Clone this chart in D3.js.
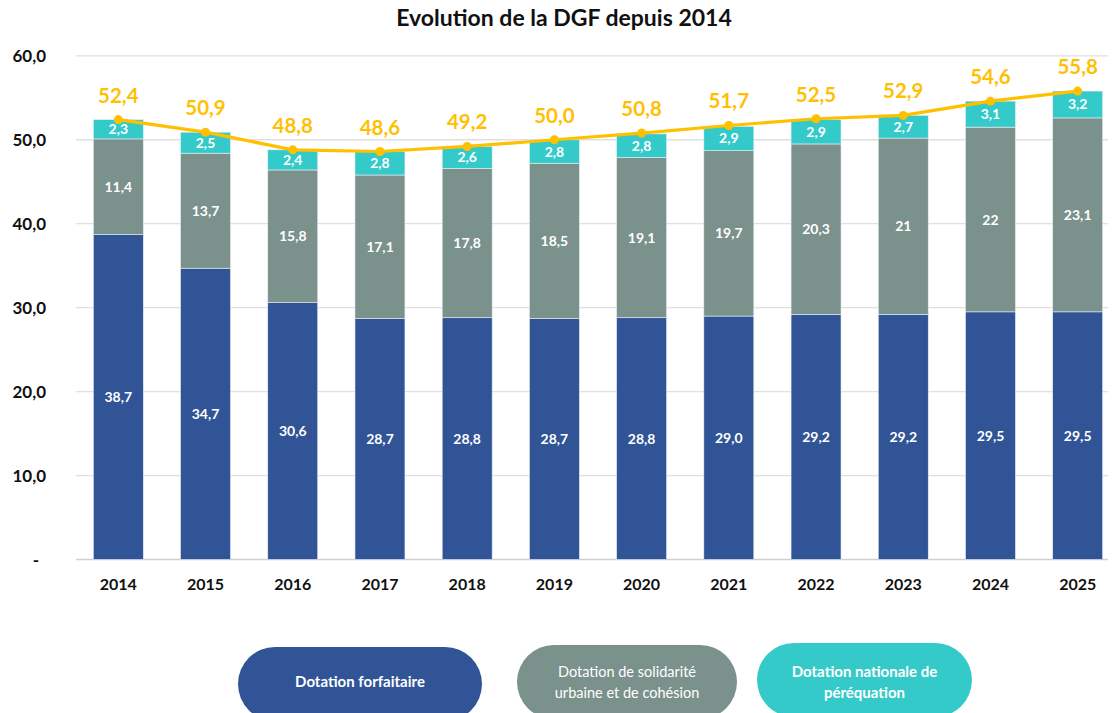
<!DOCTYPE html>
<html>
<head>
<meta charset="utf-8">
<script src="https://cdn.jsdelivr.net/npm/d3@7"></script>
<style>
  body { margin: 0; background: #fff; }
  text { font-family: Lato, "Open Sans", sans-serif; }
</style>
</head>
<body>
<script>
const width = 1113;
const height = 713;

const years = ["2014", "2015", "2016", "2017", "2018", "2019", "2020", "2021", "2022", "2023", "2024", "2025"];
const forfaitaire = [38.7, 34.7, 30.6, 28.7, 28.8, 28.7, 28.8, 29.0, 29.2, 29.2, 29.5, 29.5];
const solidarite = [11.4, 13.7, 15.8, 17.1, 17.8, 18.5, 19.1, 19.7, 20.3, 21, 22, 23.1];
const perequation = [2.3, 2.5, 2.4, 2.8, 2.6, 2.8, 2.8, 2.9, 2.9, 2.7, 3.1, 3.2];
const totals = [52.4, 50.9, 48.8, 48.6, 49.2, 50.0, 50.8, 51.7, 52.5, 52.9, 54.6, 55.8];
const yTicks = [0, 10, 20, 30, 40, 50, 60];

const seriesNames = ["Dotation forfaitaire", "Dotation de solidarité urbaine et de cohésion", "Dotation nationale de péréquation"];
const colors = ["#305496", "#7b918b", "#35caca"];
const lineColor = "#ffc000";

const fr = (v, dec) => v.toFixed(dec).replace(".", ",");

const svg = d3.select("body")
    .append("svg")
    .attr("width", width)
    .attr("height", height);

const x = d3.scaleBand()
    .domain(years)
    .range([74.7, 1121.3])
    .paddingInner(0.427)
    .paddingOuter(0.2135);

const y = d3.scaleLinear()
    .domain([0, 60])
    .range([559.5, 55.8]);

// title
svg.append("text")
    .attr("x", 564)
    .attr("y", 26)
    .attr("text-anchor", "middle")
    .style("font-size", "23px")
    .style("font-weight", "bold")
    .style("fill", "#111")
    .text("Evolution de la DGF depuis 2014");

// gridlines
svg.selectAll(".grid")
    .data(yTicks)
    .enter()
    .append("line")
    .attr("x1", 76)
    .attr("x2", 1108)
    .attr("y1", (d) => y(d))
    .attr("y2", (d) => y(d))
    .style("stroke", (d) => d === 0 ? "#d0d0d0" : "#e0e0e0")
    .style("stroke-width", 1.3);

// y labels
svg.selectAll(".y-label")
    .data(yTicks)
    .enter()
    .append("text")
    .attr("x", (d) => d === 0 ? 36 : 46)
    .attr("y", (d) => y(d) + 6)
    .attr("text-anchor", (d) => d === 0 ? "middle" : "end")
    .style("font-size", "17px")
    .style("font-weight", "bold")
    .style("fill", "#111")
    .text((d) => d === 0 ? "-" : fr(d, 1));

// x labels
svg.selectAll(".x-label")
    .data(years)
    .enter()
    .append("text")
    .attr("x", (d) => x(d) + x.bandwidth() / 2)
    .attr("y", 590)
    .attr("text-anchor", "middle")
    .style("font-size", "16px")
    .style("font-weight", "bold")
    .style("fill", "#111")
    .text((d) => d);

// stacked segments
const rows = years.map((yr, i) => ({
    year: yr,
    values: [forfaitaire[i], solidarite[i], perequation[i]],
}));

const segments = [];
rows.forEach((r) => {
    let base = 0;
    r.values.forEach((v, k) => {
        segments.push({ year: r.year, k: k, y0: base, y1: base + v, value: v });
        base += v;
    });
});

svg.selectAll(".seg")
    .data(segments)
    .enter()
    .append("rect")
    .attr("x", (d) => x(d.year))
    .attr("width", x.bandwidth())
    .attr("y", (d) => y(d.y1))
    .attr("height", (d) => y(d.y0) - y(d.y1))
    .style("fill", (d) => colors[d.k])
    .style("stroke", "#e8eef4")
    .style("stroke-width", 0.6);

svg.selectAll(".seg-label")
    .data(segments)
    .enter()
    .append("text")
    .attr("x", (d) => x(d.year) + x.bandwidth() / 2)
    .attr("y", (d) => (y(d.y0) + y(d.y1)) / 2 + 5)
    .attr("text-anchor", "middle")
    .style("font-size", "14px")
    .style("font-weight", "bold")
    .style("fill", "#fff")
    .text((d) => d.k === 1 && Number.isInteger(d.value) ? String(d.value) : fr(d.value, 1));

// total line
const line = d3.line()
    .x((d, i) => x(years[i]) + x.bandwidth() / 2)
    .y((d) => y(d));

svg.append("path")
    .datum(totals)
    .attr("d", line)
    .style("fill", "none")
    .style("stroke", lineColor)
    .style("stroke-width", 3.2);

svg.selectAll(".pt")
    .data(totals)
    .enter()
    .append("circle")
    .attr("cx", (d, i) => x(years[i]) + x.bandwidth() / 2)
    .attr("cy", (d) => y(d))
    .attr("r", 4.5)
    .style("fill", lineColor);

svg.selectAll(".total-label")
    .data(totals)
    .enter()
    .append("text")
    .attr("x", (d, i) => x(years[i]) + x.bandwidth() / 2)
    .attr("y", (d) => y(d) - 17)
    .attr("text-anchor", "middle")
    .style("font-size", "20.5px")
    .style("font-weight", "bold")
    .style("fill", lineColor)
    .text((d) => fr(d, 1));

// legend pills
const legend = [
    { x: 238, w: 244, y: 647, lines: ["Dotation forfaitaire"], bold: true },
    { x: 517, w: 220, y: 645, lines: ["Dotation de solidarité", "urbaine et de cohésion"], bold: false },
    { x: 757, w: 215, y: 643, lines: ["Dotation nationale de", "péréquation"], bold: true },
];

legend.forEach((l, i) => {
    const g = svg.append("g");
    g.append("rect")
        .attr("x", l.x)
        .attr("y", l.y)
        .attr("width", l.w)
        .attr("height", 74)
        .attr("rx", 37)
        .style("fill", colors[i]);
    const cy = 682;
    l.lines.forEach((t, j) => {
        g.append("text")
            .attr("x", l.x + l.w / 2)
            .attr("y", cy + 5 + (j - (l.lines.length - 1) / 2) * 21)
            .attr("text-anchor", "middle")
            .style("font-size", l.bold ? "15px" : "14.5px")
            .style("font-weight", l.bold ? "bold" : "normal")
            .style("fill", "#fff")
            .text(t);
    });
});
</script>
</body>
</html>
